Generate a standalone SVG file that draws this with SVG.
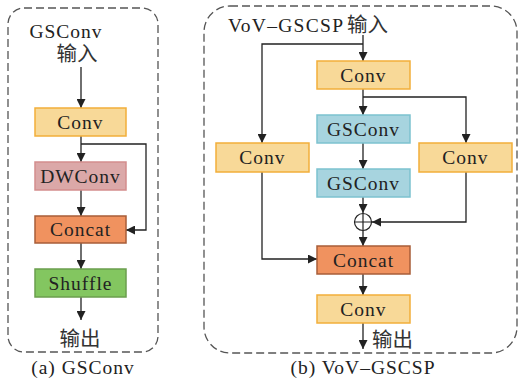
<svg xmlns="http://www.w3.org/2000/svg" width="521" height="380" viewBox="0 0 521 380">
<style>
.t{font-family:"Liberation Serif","Times New Roman",serif;font-size:19.5px;fill:#222;text-anchor:middle;letter-spacing:1px}
.cjk{font-family:"Liberation Serif","Noto Sans CJK SC",serif;font-size:20.5px;fill:#333}
.frame{fill:none;stroke:#555;stroke-width:1.3;stroke-dasharray:8 4}
.ln{fill:none;stroke:#222;stroke-width:1.3}
.conv{fill:#F8D998;stroke:#F2AE3A;stroke-width:1.5}
.dw{fill:#DBA8A8;stroke:#D38D8D;stroke-width:1.5}
.cat{fill:#F0925F;stroke:#A85D38;stroke-width:1.5}
.shf{fill:#83C660;stroke:#6B9E4E;stroke-width:1.5}
.gs{fill:#A7D4DF;stroke:#7CC2CF;stroke-width:1.5}
</style>
<defs>
<marker id="ah" viewBox="0 0 10 10" refX="10" refY="5" markerWidth="9" markerHeight="9" markerUnits="userSpaceOnUse" orient="auto">
<path d="M0,0 L10,5 L0,10 z" fill="#222"/>
</marker>
</defs>

<!-- frames -->
<rect class="frame" x="8" y="8" width="150" height="344" rx="16"/>
<rect class="frame" x="204" y="6" width="313" height="347" rx="26"/>

<!-- connectors -->
<g id="connectors">
<!-- left panel -->
<line class="ln" x1="81" y1="67" x2="81" y2="108" marker-end="url(#ah)"/>
<line class="ln" x1="81" y1="136" x2="81" y2="162" marker-end="url(#ah)"/>
<polyline class="ln" points="81,144 146,144 146,230 126,230" marker-end="url(#ah)"/>
<line class="ln" x1="81" y1="190" x2="81" y2="216" marker-end="url(#ah)"/>
<line class="ln" x1="81" y1="243" x2="81" y2="269" marker-end="url(#ah)"/>
<line class="ln" x1="81" y1="297" x2="81" y2="320" marker-end="url(#ah)"/>
<!-- right panel -->
<line class="ln" x1="363" y1="35" x2="363" y2="61" marker-end="url(#ah)"/>
<polyline class="ln" points="363,44 262,44 262,143" marker-end="url(#ah)"/>
<line class="ln" x1="363" y1="89" x2="363" y2="115" marker-end="url(#ah)"/>
<polyline class="ln" points="363,97 466,97 466,143" marker-end="url(#ah)"/>
<line class="ln" x1="363" y1="143" x2="363" y2="169" marker-end="url(#ah)"/>
<line class="ln" x1="363" y1="197" x2="363" y2="213" marker-end="url(#ah)"/>
<polyline class="ln" points="466,172 466,222 372,222" marker-end="url(#ah)"/>
<line class="ln" x1="363" y1="231" x2="363" y2="246" marker-end="url(#ah)"/>
<polyline class="ln" points="262,172 262,259 317,259" marker-end="url(#ah)"/>
<line class="ln" x1="363" y1="274" x2="363" y2="295" marker-end="url(#ah)"/>
<line class="ln" x1="363" y1="323" x2="363" y2="349" marker-end="url(#ah)"/>
</g>

<!-- left panel nodes -->
<g id="a-input"><text class="t" x="66" y="38">GSConv</text><text class="cjk" x="77" y="61" text-anchor="middle">输入</text></g>
<g id="a-conv"><rect class="conv" x="35" y="108" width="91" height="28"/><text class="t" x="80.5" y="128.5">Conv</text></g>
<g id="a-dwconv"><rect class="dw" x="35" y="162" width="91" height="28"/><text class="t" x="80.5" y="182.5">DWConv</text></g>
<g id="a-concat"><rect class="cat" x="35" y="216" width="91" height="27"/><text class="t" x="80.5" y="236">Concat</text></g>
<g id="a-shuffle"><rect class="shf" x="35" y="269" width="91" height="28"/><text class="t" x="80.5" y="289.5">Shuffle</text></g>
<g id="a-output"><text class="cjk" x="80" y="346" text-anchor="middle">输出</text></g>
<g id="a-caption"><text class="t" x="83" y="374">(a) GSConv</text></g>

<!-- right panel nodes -->
<g id="b-input"><text class="t" x="228" y="32" style="text-anchor:start" textLength="116">VoV–GSCSP</text><text class="cjk" x="347" y="32">输入</text></g>
<g id="b-conv1"><rect class="conv" x="317" y="61" width="93" height="28"/><text class="t" x="363.5" y="81.5">Conv</text></g>
<g id="b-gsconv1"><rect class="gs" x="317" y="115" width="93" height="28"/><text class="t" x="363.5" y="135.5">GSConv</text></g>
<g id="b-gsconv2"><rect class="gs" x="317" y="169" width="93" height="28"/><text class="t" x="363.5" y="189.5">GSConv</text></g>
<g id="b-convL"><rect class="conv" x="216" y="143" width="93" height="29"/><text class="t" x="262.5" y="164">Conv</text></g>
<g id="b-convR"><rect class="conv" x="419" y="143" width="93" height="29"/><text class="t" x="465.5" y="164">Conv</text></g>
<g id="b-add"><circle cx="363" cy="222" r="8.5" fill="#fff" stroke="#222" stroke-width="1.2"/><path d="M354.5,222 H371.5 M363,213.5 V230.5" stroke="#222" stroke-width="1.2"/></g>
<g id="b-concat"><rect class="cat" x="317" y="246" width="93" height="28"/><text class="t" x="363.5" y="266.5">Concat</text></g>
<g id="b-conv2"><rect class="conv" x="317" y="295" width="93" height="28"/><text class="t" x="363.5" y="315.5">Conv</text></g>
<g id="b-output"><text class="cjk" x="372" y="347">输出</text></g>
<g id="b-caption"><text class="t" x="363" y="374">(b) VoV–GSCSP</text></g>
</svg>
